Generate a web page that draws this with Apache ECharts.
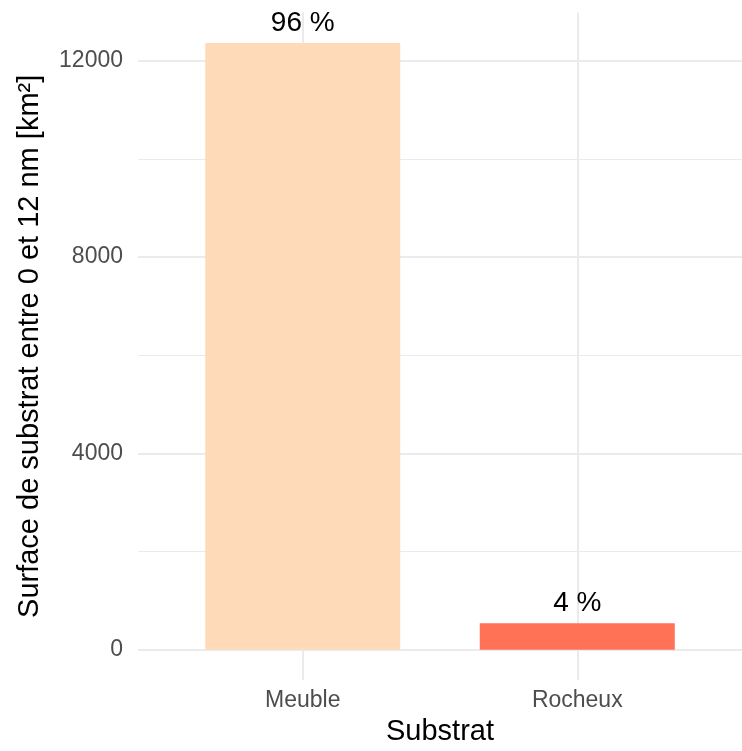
<!DOCTYPE html>
<html>
<head>
<meta charset="utf-8">
<script src="https://cdn.jsdelivr.net/npm/echarts@6/dist/echarts.min.js"></script>
<style>
html,body{margin:0;padding:0;background:#fff;}
#chart{width:742px;height:751px;}
</style>
</head>
<body>
<div id="chart"></div>
<script>
// ---- data ----
const categories = ['Meuble', 'Rocheux'];
const surfaces = [12360, 540];
const yMajorTicks = [0, 4000, 8000, 12000];
const yMinorTicks = [2000, 6000, 10000];

// ---- styles ----
const barColors = ['#FFDAB9', '#FF7256'];
const gridColor = '#EBEBEB';
const FONT = '"Liberation Sans", Arial, sans-serif';

const total = surfaces.reduce((a, b) => a + b, 0);
const xPositions = categories.map((c, i) => i + 1);
const barData = categories.map((c, i) => ({
  value: [xPositions[i], surfaces[i]],
  itemStyle: { color: barColors[i] }
}));

const chart = echarts.init(document.getElementById('chart'), null, { renderer: 'canvas' });
chart.setOption({
  backgroundColor: '#ffffff',
  animation: false,
  grid: { left: 138, width: 612, top: 12.6, height: 674 },
  xAxis: {
    type: 'value',
    min: 0.4,
    max: 2.6,
    name: 'Substrat',
    nameLocation: 'middle',
    nameGap: 36,
    nameTextStyle: { fontFamily: FONT, fontSize: 29, color: '#000000' },
    axisLine: { show: false },
    axisTick: { show: false, customValues: xPositions },
    axisLabel: {
      customValues: xPositions,
      formatter: v => categories[Math.round(v) - 1] || '',
      fontFamily: FONT, fontSize: 23, color: '#4D4D4D', margin: 9
    },
    splitLine: { show: true, lineStyle: { color: gridColor, width: 2 } }
  },
  yAxis: [{
    type: 'value',
    min: -620,
    max: 12980,
    name: 'Surface de substrat entre 0 et 12 nm [km²]',
    nameLocation: 'middle',
    nameGap: 94,
    nameRotate: 90,
    nameTextStyle: { fontFamily: FONT, fontSize: 29, color: '#000000' },
    axisLine: { show: false },
    axisTick: { show: false, customValues: yMajorTicks },
    axisLabel: {
      customValues: yMajorTicks,
      formatter: v => String(v),
      fontFamily: FONT, fontSize: 23, color: '#4D4D4D', margin: 15
    },
    splitLine: { show: true, lineStyle: { color: gridColor, width: 2 } }
  }, {
    type: 'value',
    min: -620,
    max: 12980,
    position: 'left',
    axisLine: { show: false },
    axisTick: { show: false, customValues: yMinorTicks },
    axisLabel: { show: false, customValues: yMinorTicks },
    splitLine: { show: true, lineStyle: { color: gridColor, width: 1.2 } }
  }],
  series: [{
    type: 'bar',
    data: barData,
    barWidth: 195,
    yAxisIndex: 0,
    label: {
      show: true,
      position: 'top',
      distance: 6,
      formatter: p => Math.round(p.value[1] / total * 100) + ' %',
      fontFamily: FONT, fontSize: 28, color: '#000000'
    }
  }]
});
</script>
</body>
</html>
